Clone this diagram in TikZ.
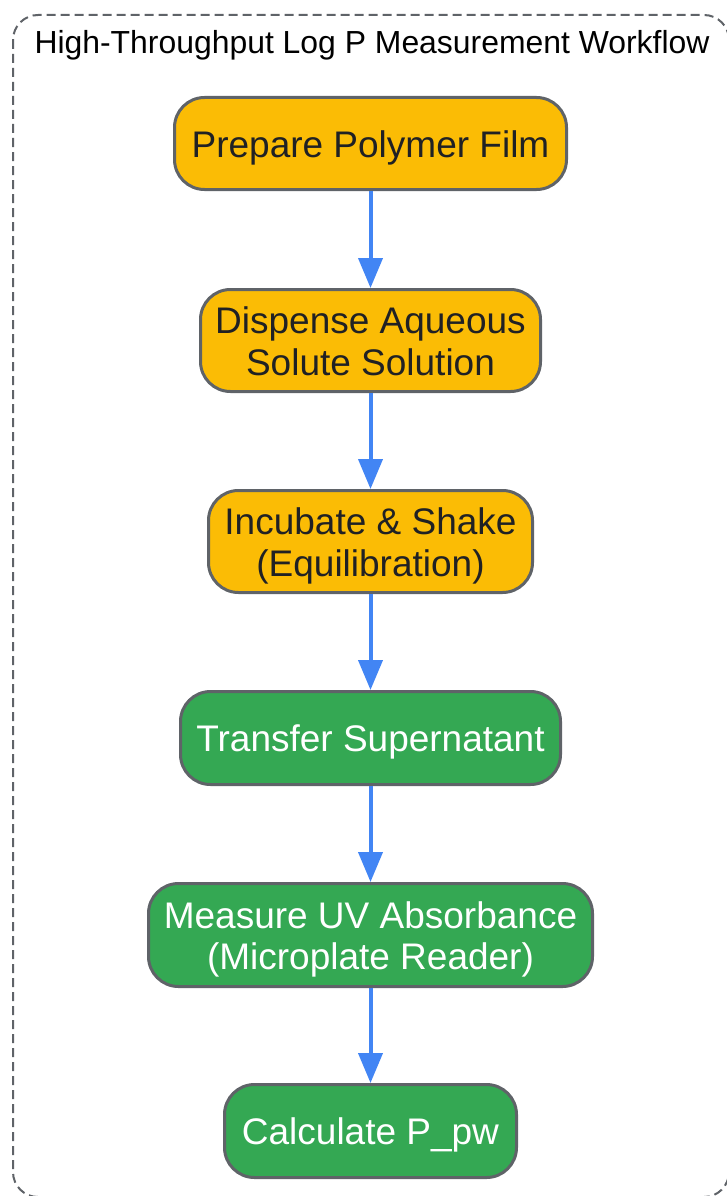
\documentclass[tikz,border=0pt]{standalone}
\usepackage{fontspec}
\setmainfont{Liberation Sans}
\usetikzlibrary{arrows.meta}
\definecolor{yel}{HTML}{FBBC05}
\definecolor{grn}{HTML}{34A853}
\definecolor{edgegray}{HTML}{5F6368}
\definecolor{arr}{HTML}{4285F4}
\definecolor{darktext}{HTML}{202124}
\begin{document}
\begin{tikzpicture}[x=1pt,y=-1pt,
  stepbox/.style={draw=edgegray, line width=3pt, rounded corners=30pt, align=center,
    font=\fontsize{37}{41.7}\selectfont, inner sep=0pt, text depth=0pt},
  oneline/.style={text height=27.8pt},
  twoline/.style={text height=69.5pt},
  yelbox/.style={stepbox, fill=yel, text=darktext},
  grnbox/.style={stepbox, fill=grn, text=white},
  flow/.style={draw=arr, line width=4pt, -{Triangle[length=30pt,width=24pt]}}]
\useasboundingbox (0,0) rectangle (727,1196);
\begin{scope}
\clip (0,0) rectangle (727,1196);
\draw[edgegray, line width=2pt, dash pattern=on 9pt off 5pt, rounded corners=25pt] (13,15) rectangle (729,1197);
\end{scope}
\node[font=\fontsize{31.9}{36}\selectfont] (title) at (372,45) {High-Throughput Log P Measurement Workflow};
\node[yelbox, oneline, minimum width=392pt, minimum height=92pt] (n1) at (370.5,143.5) {Prepare Polymer Film};
\node[yelbox, twoline, minimum width=340pt, minimum height=102pt] (n2) at (370.5,340.5) {Dispense Aqueous\\Solute Solution};
\node[yelbox, twoline, minimum width=324pt, minimum height=102pt] (n3) at (370.5,541.5) {Incubate \& Shake\\(Equilibration)};
\node[grnbox, oneline, minimum width=380pt, minimum height=93pt] (n4) at (370.5,738) {Transfer Supernatant};
\node[grnbox, twoline, minimum width=444pt, minimum height=103pt] (n5) at (370.5,935) {Measure UV Absorbance\\(Microplate Reader)};
\node[grnbox, oneline, minimum width=292pt, minimum height=93pt] (n6) at (370.5,1131) {Calculate P\_pw};
\draw[flow] (n1) -- (n2);
\draw[flow] (n2) -- (n3);
\draw[flow] (n3) -- (n4);
\draw[flow] (n4) -- (n5);
\draw[flow] (n5) -- (n6);
\end{tikzpicture}
\end{document}
